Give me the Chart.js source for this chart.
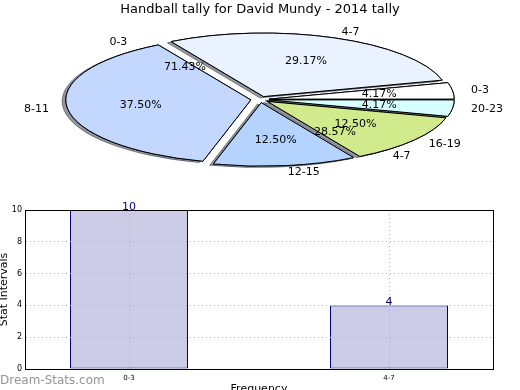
<!DOCTYPE html>
<html>
<head>
<meta charset="utf-8">
<script src="https://cdn.jsdelivr.net/npm/chart.js@4.4.1/dist/chart.umd.min.js"></script>
<style>
html,body{margin:0;padding:0;background:#fff;overflow:hidden;}
#wrap{position:relative;width:520px;height:390px;overflow:hidden;}
#pieCanvas{position:absolute;left:0;top:0;}
#barCanvas{position:absolute;left:0;top:195px;}
.mark{position:absolute;left:0;top:373px;font:12px "DejaVu Sans";color:#959595;}
</style>
</head>
<body>
<div id="wrap">
    <canvas id="pieCanvas" width="520" height="195"></canvas>
    <canvas id="barCanvas" width="520" height="210"></canvas>
    <div class="mark">Dream-Stats.com</div>
</div>
<script>

const titleText = "Handball tally for David Mundy - 2014 tally";

// pie: counts per interval (24 total)
const pieLabels = ["0-3","4-7","8-11","12-15","16-19","20-23"];
const pieValues = [1,7,9,3,3,1];

// bar: frequency per interval
const barLabels = ["0-3","4-7"];
const barValues = [10,4];

const yTicks = [0,2,4,6,8,10];

const pieColors = ["#ffffff","#eaf2ff","#c4d8ff","#b4d4ff","#d0ea8c","#d8ffff"];

/* ===== ELLIPSE GEOMETRY ===== */

const PIE = {cx:260, cy:99.5, rx:185, ry:63.5, r:80, explode:0.05, shadowX:-3.7, shadowY:1.3};

function pieTransform(ctx, arc){
    ctx.translate(PIE.cx, PIE.cy);
    ctx.scale(PIE.rx/PIE.r, -PIE.ry/PIE.r);
    ctx.translate(-arc.x, -arc.y);
    const mid = (arc.startAngle + arc.endAngle) / 2;
    const e = PIE.explode * PIE.r;
    ctx.translate(Math.cos(mid)*e, Math.sin(mid)*e);
}

// keep stroke width even though the path is squashed
function withFlatStroke(ctx, fn){
    const orig = CanvasRenderingContext2D.prototype.stroke;
    ctx.stroke = function(){
        this.save();
        this.setTransform(1,0,0,1,0,0);
        orig.apply(this, arguments);
        this.restore();
    };
    fn();
    delete ctx.stroke;
}

function drawPieText(ctx, labels, values, mids){
    const total = values.reduce((s,v)=>s+v,0);
    mids.forEach((mid,i)=>{
        const c = Math.cos(mid), s = Math.sin(mid);
        const lf = 1.1 + PIE.explode;
        const pf = 0.6 + PIE.explode;
        const lx = PIE.cx + PIE.rx*lf*c;
        const ly = PIE.cy - PIE.ry*lf*s;
        ctx.textAlign = lx > PIE.cx ? "left" : "right";
        ctx.fillText(labels[i], lx, ly);
        ctx.textAlign = "center";
        ctx.fillText((values[i]/total*100).toFixed(2)+"%", PIE.cx + PIE.rx*pf*c, PIE.cy - PIE.ry*pf*s);
    });
}

const ellipsePie = {
    id:"ellipsePie",
    beforeDatasetsDraw(chart){
        const ctx = chart.ctx;
        const arcs = chart.getDatasetMeta(0).data;
        withFlatStroke(ctx, ()=>{
            ctx.save();
            ctx.shadowColor = "rgba(40,45,60,0.5)";
            ctx.shadowOffsetX = PIE.shadowX;
            ctx.shadowOffsetY = PIE.shadowY;
            arcs.forEach(a=>{ ctx.save(); pieTransform(ctx,a); a.draw(ctx); ctx.restore(); });
            ctx.restore();
            arcs.forEach(a=>{ ctx.save(); pieTransform(ctx,a); a.draw(ctx); ctx.restore(); });
        });
        return false;
    },
    afterDraw(chart){
        const ctx = chart.ctx;
        const arcs = chart.getDatasetMeta(0).data;
        ctx.save();
        ctx.font = '11px "DejaVu Sans"';
        ctx.fillStyle = "#000";
        ctx.textBaseline = "middle";

        // first (covered) pie of the bar counts still leaves its texts
        const barTotal = barValues.reduce((s,v)=>s+v,0);
        let acc = 0;
        const barMids = barValues.map(v=>{
            const m = (acc + v/2) / barTotal * Math.PI * 2;
            acc += v;
            return m;
        });
        drawPieText(ctx, barLabels, barValues, barMids);

        drawPieText(ctx, pieLabels, pieValues, arcs.map(a=>(a.startAngle+a.endAngle)/2));
        ctx.restore();
    }
};

new Chart(document.getElementById("pieCanvas"),{
    type:"pie",
    data:{
        labels:pieLabels,
        datasets:[{
            data:pieValues,
            backgroundColor:pieColors,
            borderColor:"#000",
            borderWidth:1,
            clip:false
        }]
    },
    options:{
        responsive:false,
        animation:false,
        rotation:90,
        radius:PIE.r,
        plugins:{
            legend:{display:false},
            tooltip:{enabled:false},
            title:{
                display:true,
                text:titleText,
                color:"#000",
                font:{family:"DejaVu Sans",size:13,weight:"normal"},
                padding:{top:2,bottom:4}
            }
        }
    },
    plugins:[ellipsePie]
});

/* ===== BAR CHART ===== */

const barExtras = {
    id:"barExtras",
    afterDraw(chart){
        const ctx = chart.ctx;
        const a = chart.chartArea;
        ctx.save();
        ctx.strokeStyle = "#000";
        ctx.lineWidth = 1;
        ctx.strokeRect(Math.round(a.left)+0.5, Math.round(a.top)+0.5, Math.round(a.right-a.left), Math.round(a.bottom-a.top));

        ctx.fillStyle = "#000080";
        ctx.font = '11px "DejaVu Sans"';
        ctx.textAlign = "center";
        ctx.textBaseline = "alphabetic";
        chart.getDatasetMeta(0).data.forEach((bar,i)=>{
            ctx.fillText(String(barValues[i]), bar.x, bar.y);
        });
        ctx.restore();
    }
};

new Chart(document.getElementById("barCanvas"),{
    type:"bar",
    data:{
        datasets:[{
            data:barValues.map((v,i)=>({x:i,y:v})),
            backgroundColor:"#ccccE6",
            borderColor:"#000080",
            borderWidth:1,
            borderSkipped:false,
            inflateAmount:0,
            barPercentage:118/260,
            categoryPercentage:1
        }]
    },
    options:{
        responsive:false,
        animation:false,
        layout:{padding:{top:15,right:27,left:0,bottom:0}},
        plugins:{legend:{display:false},tooltip:{enabled:false}},
        scales:{
            x:{
                type:"linear",
                min:-0.4,
                max:1.4,
                offset:false,
                afterBuildTicks:s=>{ s.ticks = barLabels.map((_,i)=>({value:i})); },
                afterFit:s=>{ s.height = 36; },
                ticks:{
                    callback:v=>barLabels[v],
                    color:"#000",
                    font:{family:"DejaVu Sans",size:7},
                    padding:5,
                    autoSkip:false,
                    maxRotation:0
                },
                grid:{color:"#b0b0b0",drawTicks:false,offset:false,z:1},
                border:{display:true,color:"#000",width:1,dash:[1,3],z:2},
                title:{
                    display:true,
                    text:"Frequency",
                    color:"#000",
                    font:{family:"DejaVu Sans",size:11},
                    padding:{top:0,bottom:9}
                }
            },
            y:{
                min:0,
                max:10,
                afterBuildTicks:s=>{ s.ticks = yTicks.map(v=>({value:v})); },
                afterFit:s=>{ s.width = 25; },
                ticks:{
                    color:"#000",
                    font:{family:"DejaVu Sans",size:8},
                    padding:3
                },
                grid:{color:"#b0b0b0",drawTicks:false,z:1},
                border:{display:true,color:"#000",width:1,dash:[1,3],z:2},
                title:{
                    display:true,
                    text:"Stat Intervals",
                    color:"#000",
                    font:{family:"DejaVu Sans",size:11},
                    padding:{top:-2,bottom:0}
                }
            }
        }
    },
    plugins:[barExtras]
});

</script>
</body>
</html>
